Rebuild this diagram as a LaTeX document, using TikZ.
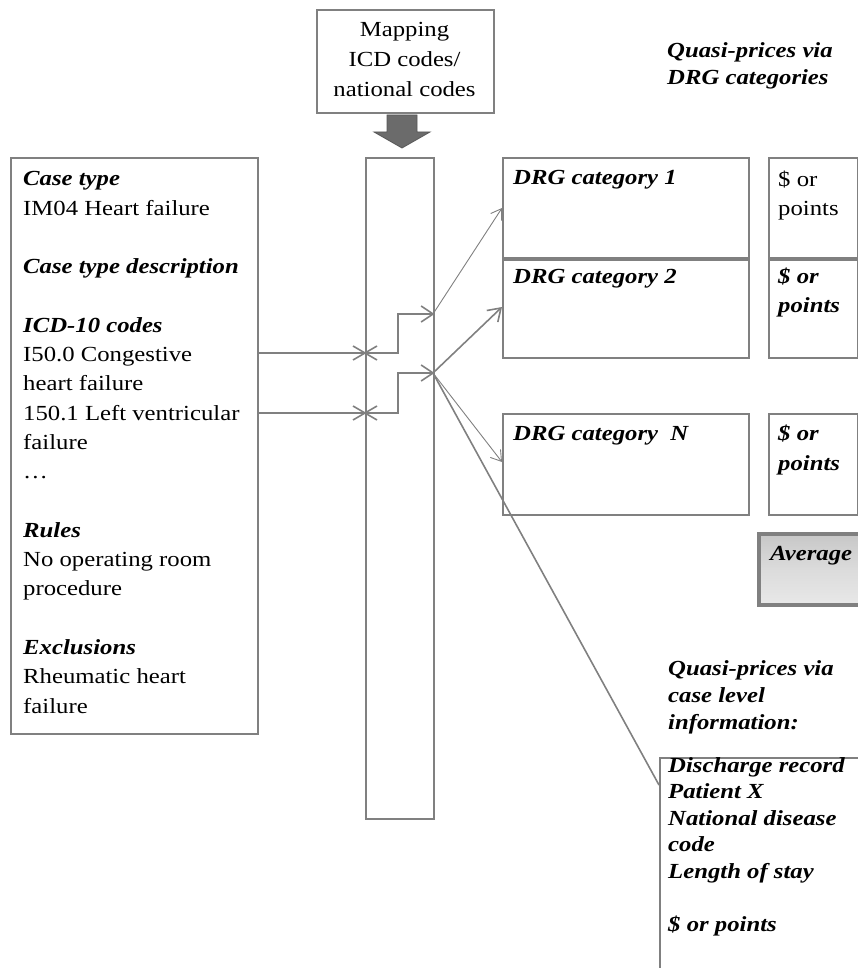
\documentclass[tikz,border=0pt]{standalone}
\usepackage{fontspec}
\setmainfont{Liberation Serif}[FakeStretch=1.15]
\usetikzlibrary{arrows.meta}
\definecolor{lg}{RGB}{128,128,128}
\begin{document}
\begin{tikzpicture}[x=1pt,y=-1pt,
  box/.style={draw=lg, line width=1.6pt, inner sep=0pt, anchor=north west},
  txt/.style={inner sep=0pt, anchor=base west, align=left, font=\fontsize{21.5}{29.3}\selectfont},
  txtb/.style={txt, font=\fontsize{21.5}{27}\selectfont\bfseries\itshape},
  conn/.style={draw=lg, line width=1.6pt},
  thinconn/.style={draw=lg, line width=0.9pt},
  tip/.style={-{Straight Barb[length=12pt,width=16pt]}},
  tipthin/.style={-{Straight Barb[length=10pt,width=13pt]}}]
\clip (0,0) rectangle (858,968);
\useasboundingbox (0,0) rectangle (858,968);
% mapping box (multi-line nodes: base anchor = last line's baseline)
\node[box, minimum width=177pt, minimum height=103pt] (map) at (316,9) {};
\node[inner sep=0pt, anchor=base, align=center, font=\fontsize{21.5}{30}\selectfont] (maptext) at (404.5,97) {Mapping\\ICD codes/\\national codes};
% big down arrow
\draw[fill=black!58, draw=black!66, line width=0.8pt] (387,115) -- (417,115) -- (417,132) -- (430,132) -- (402,148) -- (374,132) -- (387,132) -- cycle;
% column
\node[box, minimum width=68pt, minimum height=661pt] (col) at (365,157) {};
% case box
\node[box, minimum width=247pt, minimum height=576pt] (case) at (10,157) {};
\node[txt] (casetext) at (23,713.1) {\textbf{\textit{Case type}}\\IM04 Heart failure\\[29.3pt]\textbf{\textit{Case type description}}\\[29.3pt]\textbf{\textit{ICD-10 codes}}\\I50.0 Congestive\\heart failure\\150.1 Left ventricular\\failure\\…\\[29.3pt]\textbf{\textit{Rules}}\\No operating room\\procedure\\[29.3pt]\textbf{\textit{Exclusions}}\\Rheumatic heart\\failure};
% DRG boxes
\node[box, minimum width=246pt, minimum height=100pt] (drg1) at (502,157) {};
\node[box, minimum width=246pt, minimum height=98pt] (drg2) at (502,259) {};
\node[box, minimum width=246pt, minimum height=101pt] (drgN) at (502,413) {};
\node[box, minimum width=89pt, minimum height=100pt] (p1) at (768,157) {};
\node[box, minimum width=89pt, minimum height=98pt] (p2) at (768,259) {};
\node[box, minimum width=89pt, minimum height=101pt] (pN) at (768,413) {};
\node[txtb] (drg1t) at (513,185) {DRG category 1};
\node[txtb] (drg2t) at (513,283) {DRG category 2};
\node[txtb] (drgNt) at (513,440) {DRG category\ \ N};
\node[txt, font=\fontsize{21.5}{28.5}\selectfont] (p1t) at (778,215.5) {\$ or\\points};
\node[txtb, font=\fontsize{21.5}{29}\selectfont\bfseries\itshape] (p2t) at (778,312) {\$ or\\points};
\node[txtb, font=\fontsize{21.5}{30}\selectfont\bfseries\itshape] (pNt) at (778,470) {\$ or\\points};
% average box
\node[box, draw=black!50, line width=3.5pt, minimum width=130pt, minimum height=71pt, top color=black!22, bottom color=black!9, middle color=black!14] (avg) at (757,532) {};
\node[txtb] (avgt) at (770,560) {Average};
% quasi-price headings
\node[txtb] (q1) at (667,85) {Quasi-prices via\\DRG categories};
\node[txtb] (q2) at (668,729) {Quasi-prices via\\case level\\information:};
% discharge box
\node[box, minimum width=250pt, minimum height=260pt] (dis) at (659,757) {};
\node[txtb, font=\fontsize{21.5}{26.6}\selectfont\bfseries\itshape] (dist) at (668,931.6) {Discharge record\\Patient X\\National disease\\code\\Length of stay\\[26.6pt]\$ or points};
% connectors from case box
\coordinate (j1) at (398,353);
\coordinate (j2) at (398,413);
\coordinate (o1) at (433,314);
\coordinate (o2) at (433,373);
\draw[conn, tip] (case.east |- j1) -- (j1) |- (col.east |- o1);
\draw[conn, tip] (case.east |- j2) -- (j2) |- (col.east |- o2);
% X marks on column edge
\coordinate (x1) at (col.west |- j1);
\coordinate (x2) at (col.west |- j2);
\foreach \c in {x1,x2}{
  \draw[conn] ([shift={(-12,-7)}]\c) -- ([shift={(12,7)}]\c);
  \draw[conn] ([shift={(-12,7)}]\c) -- ([shift={(12,-7)}]\c);
}
% fan-out arrows
\draw[thinconn, tipthin] (o1) -- (drg1.west |- 0,208);
\draw[conn, tip] (o2) -- (drg2.west |- 0,307);
\draw[thinconn, tipthin] (o2) -- (drgN.west |- 0,462);
\draw[conn] (o2) -- (dis.west |- 0,785);
\end{tikzpicture}
\end{document}
